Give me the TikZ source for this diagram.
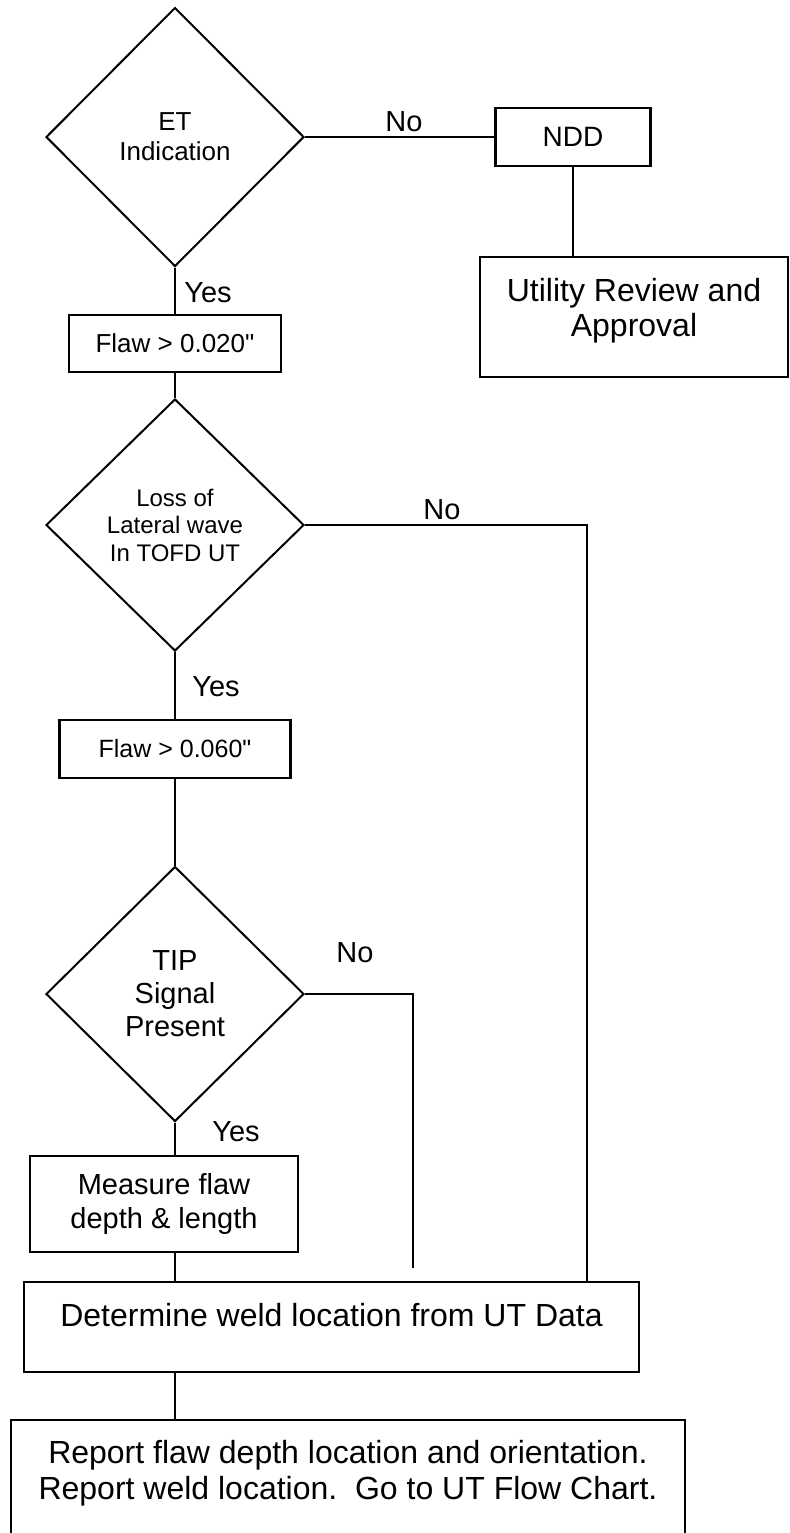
\documentclass[tikz,border=0pt]{standalone}
\usepackage{fontspec}
\setmainfont{Liberation Sans}
\usetikzlibrary{shapes.geometric}

\begin{document}
\begin{tikzpicture}[
        x=0.5pt, y=-0.5pt,
        box/.style={
            draw,
            rectangle,
            line width=1.1pt,
            align=center,
            inner sep=0pt
        },
        decision/.style={
            draw,
            diamond,
            line width=1pt,
            align=center,
            inner sep=0pt,
            minimum width=129pt
        },
        lbl/.style={font=\fontsize{14.5}{17}\selectfont, inner sep=0pt},
        link/.style={line width=1pt}
    ]
    \useasboundingbox (0,0) rectangle (790,1533);

    % Row 1
    \node[decision, minimum height=129.5pt, font=\fontsize{13}{15}\selectfont] (et) at (175,137) {ET\\Indication};

    \node[box, minimum width=77.5pt, minimum height=29pt, font=\fontsize{14}{16}\selectfont] (ndd) at (573,137) {NDD};

    \node[box, minimum width=154pt, minimum height=60pt,
        label={[font=\fontsize{16}{17.5}\selectfont, align=center, yshift=3pt]center:Utility Review and\\Approval}] (util) at (634,317) {};

    \node[box, minimum width=106pt, minimum height=28.5pt, font=\fontsize{13}{15}\selectfont] (flawA) at (175,343.5) {Flaw > 0.020\textquotedbl};

    % Row 2
    \node[decision, minimum height=126pt, font=\fontsize{12}{13.75}\selectfont] (loss) at (175,525) {Loss of\\Lateral wave\\In TOFD UT};

    \node[box, minimum width=115.5pt, minimum height=29pt, font=\fontsize{12.5}{15}\selectfont] (flawB) at (175,749) {Flaw > 0.060\textquotedbl};

    % Row 3
    \node[decision, minimum height=127.5pt, font=\fontsize{14.5}{16.5}\selectfont] (tip) at (175,994) {TIP\\Signal\\Present};

    \node[box, minimum width=134pt, minimum height=48pt, font=\fontsize{14.5}{17}\selectfont] (measure) at (164,1204) {Measure flaw\\depth \& length};

    % Row 4
    \node[box, minimum width=307.5pt, minimum height=45pt,
        label={[font=\fontsize{16}{18}\selectfont, yshift=6pt]center:Determine weld location from UT Data}] (weld) at (331.5,1327) {};

    \node[box, minimum width=337pt, minimum height=70pt,
        label={[font=\fontsize{16}{18}\selectfont, align=center, yshift=8.4pt]center:Report flaw depth location and orientation.\\Report weld location.\ \ Go to UT Flow Chart.}] (report) at (348,1490) {};

    % Labels
    \node[lbl] (noA) at (404,122) {No};
    \node[lbl] (yesA) at (208,293) {Yes};
    \node[lbl] (noB) at (442,510) {No};
    \node[lbl] (yesB) at (216,687) {Yes};
    \node[lbl] (noC) at (355,953) {No};
    \node[lbl] (yesC) at (236,1132) {Yes};

    \coordinate (turnB) at (587,525);
    \coordinate (endC) at (413,1268);

    % Lines
    \draw[link] (et.east) -- (ndd.west);
    \draw[link] (ndd.south) -- (ndd.south |- util.north);
    \draw[link] (et.south) -- (flawA.north);
    \draw[link] (flawA.south) -- (loss.north);
    \draw[link] (loss.east) -- (turnB) -- (turnB |- weld.north);
    \draw[link] (loss.south) -- (flawB.north);
    \draw[link] (flawB.south) -- (tip.north);
    \draw[link] (tip.east) -| (endC);
    \draw[link] (tip.south) -- (tip.south |- measure.north);
    \draw[link] (measure.south -| tip.south) -- (weld.north -| tip.south);
    \draw[link] (weld.south -| tip.south) -- (report.north -| tip.south);

\end{tikzpicture}
\end{document}
